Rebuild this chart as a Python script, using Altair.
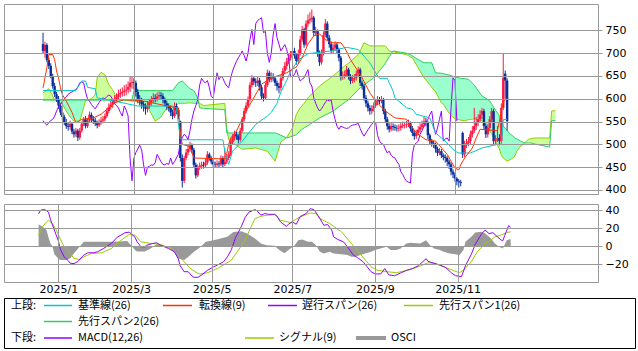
import altair as alt
import pandas as pd

# ---------------- data ----------------
day_index = list(range(-10, 231))  # trading-day index, 0 = first trading day of 2025

open_price = [
    720, 705, 718, 685, 672, 650, 628, 610, 600, 585,
    570, 560, 548, 540, 538, 545, 528, 522, 530, 515,
    530, 545, 555, 540, 552, 565, 555, 552, 546, 542,
    548, 552, 555, 562, 573, 582, 587, 594, 600, 604,
    610, 613, 615, 618, 620, 626, 635, 637, 635, 615,
    600, 595, 588, 582, 578, 585, 592, 598, 602, 600,
    605, 608, 606, 598, 590, 585, 580, 570, 562, 584,
    575, 550, 470, 420, 470, 482, 490, 498, 488, 455,
    432, 450, 452, 455, 454, 460, 478, 470, 462, 456,
    455, 458, 456, 470, 456, 462, 470, 478, 505, 515,
    522, 518, 510, 530, 555, 573, 585, 598, 630, 645,
    638, 635, 640, 625, 605, 602, 630, 657, 642, 650,
    645, 635, 628, 624, 645, 661, 672, 682, 690, 697,
    705, 695, 683, 700, 730, 752, 719, 765, 772, 775,
    778, 745, 748, 700, 680, 700, 740, 765, 734, 720,
    705, 712, 719, 708, 690, 648, 650, 653, 664, 650,
    639, 643, 646, 655, 664, 635, 628, 602, 590, 580,
    573, 578, 585, 592, 598, 595, 598, 573, 555, 540,
    533, 540, 538, 536, 535, 536, 540, 542, 543, 544,
    546, 535, 525, 518, 525, 532, 538, 544, 550, 548,
    520, 507, 502, 500, 490, 481, 485, 476, 472, 470,
    462, 456, 440, 434, 425, 419, 417, 525, 478, 499,
    503, 507, 522, 530, 540, 548, 555, 565, 573, 540,
    522, 536, 555, 573, 507, 512, 514, 507, 580, 655,
    640,
]
high_price = [
    745, 725, 722, 690, 678, 655, 635, 615, 606, 590,
    578, 565, 556, 548, 552, 548, 534, 536, 534, 536,
    550, 560, 562, 558, 572, 570, 562, 558, 552, 555,
    560, 562, 568, 580, 590, 595, 600, 608, 612, 620,
    622, 625, 630, 632, 638, 650, 648, 645, 640, 622,
    608, 602, 595, 590, 595, 600, 606, 612, 610, 614,
    616, 615, 612, 603, 596, 590, 585, 576, 592, 590,
    580, 552, 478, 475, 490, 500, 506, 502, 492, 460,
    456, 460, 462, 462, 468, 485, 482, 474, 466, 462,
    465, 463, 476, 474, 492, 476, 485, 510, 522, 530,
    528, 522, 536, 560, 580, 592, 605, 636, 652, 650,
    645, 650, 646, 630, 612, 636, 664, 662, 658, 656,
    650, 640, 635, 652, 668, 680, 690, 698, 705, 716,
    712, 700, 708, 738, 760, 756, 772, 785, 790, 796,
    782, 758, 752, 706, 708, 748, 775, 770, 740, 726,
    720, 726, 724, 712, 694, 660, 662, 672, 668, 654,
    652, 654, 662, 670, 668, 640, 632, 608, 596, 586,
    586, 592, 600, 606, 604, 606, 602, 578, 560, 546,
    548, 546, 544, 542, 544, 548, 550, 550, 552, 554,
    550, 540, 530, 532, 540, 546, 552, 560, 558, 552,
    524, 512, 508, 504, 495, 492, 490, 480, 478, 474,
    466, 460, 445, 438, 428, 424, 422, 528, 508, 512,
    516, 530, 540, 580, 560, 566, 575, 580, 578, 546,
    544, 562, 580, 578, 520, 540, 522, 590, 700, 662,
    645,
]
low_price = [
    700, 690, 680, 665, 645, 622, 604, 593, 578, 564,
    552, 542, 534, 530, 532, 522, 515, 516, 507, 510,
    526, 540, 535, 536, 548, 548, 545, 540, 535, 538,
    543, 546, 550, 558, 568, 576, 580, 588, 592, 598,
    602, 605, 606, 608, 612, 615, 622, 620, 605, 590,
    585, 578, 572, 565, 570, 578, 585, 590, 592, 594,
    598, 598, 590, 582, 575, 572, 562, 555, 558, 566,
    555, 462, 405, 415, 465, 476, 484, 480, 448, 425,
    428, 444, 446, 447, 449, 455, 464, 456, 450, 448,
    450, 449, 452, 450, 452, 457, 465, 474, 500, 508,
    510, 502, 506, 526, 550, 568, 580, 594, 625, 630,
    626, 628, 618, 598, 594, 598, 626, 636, 636, 638,
    628, 618, 612, 618, 640, 655, 664, 676, 684, 690,
    688, 675, 678, 695, 725, 712, 715, 758, 765, 768,
    738, 738, 692, 672, 675, 695, 735, 728, 712, 698,
    700, 705, 700, 682, 640, 642, 644, 648, 642, 632,
    634, 636, 640, 650, 628, 620, 596, 582, 572, 565,
    566, 572, 580, 586, 588, 590, 566, 548, 532, 526,
    528, 530, 530, 528, 528, 530, 535, 535, 536, 538,
    528, 518, 510, 512, 520, 526, 532, 538, 540, 512,
    500, 495, 492, 482, 474, 476, 470, 465, 460, 452,
    446, 432, 426, 418, 410, 405, 408, 470, 472, 492,
    496, 500, 515, 525, 532, 540, 548, 556, 532, 514,
    515, 530, 548, 500, 498, 505, 498, 500, 575, 600,
    530,
]
close_price = [
    705, 718, 685, 672, 650, 628, 610, 600, 585, 570,
    560, 548, 540, 538, 545, 528, 522, 530, 515, 530,
    545, 555, 540, 552, 565, 555, 552, 546, 542, 548,
    552, 555, 562, 573, 582, 587, 594, 600, 604, 610,
    613, 615, 618, 620, 626, 635, 637, 635, 615, 600,
    595, 588, 582, 578, 585, 592, 598, 602, 600, 605,
    608, 606, 598, 590, 585, 580, 570, 562, 584, 575,
    562, 470, 420, 470, 482, 490, 498, 488, 455, 432,
    450, 452, 455, 454, 460, 478, 470, 462, 456, 455,
    458, 456, 470, 456, 462, 470, 478, 505, 515, 522,
    518, 510, 530, 555, 573, 585, 598, 630, 645, 638,
    635, 640, 625, 605, 602, 630, 657, 642, 650, 645,
    635, 628, 624, 645, 661, 672, 682, 690, 697, 705,
    695, 683, 700, 730, 752, 719, 765, 772, 775, 778,
    745, 748, 700, 680, 700, 740, 765, 734, 720, 705,
    712, 719, 708, 690, 648, 650, 653, 664, 650, 639,
    643, 646, 655, 664, 635, 628, 602, 590, 580, 573,
    578, 585, 592, 598, 595, 598, 573, 555, 540, 533,
    540, 538, 536, 535, 536, 540, 542, 543, 544, 546,
    535, 525, 518, 525, 532, 538, 544, 550, 548, 520,
    507, 502, 500, 490, 481, 485, 476, 472, 470, 462,
    456, 440, 434, 425, 419, 417, 415, 478, 499, 503,
    507, 522, 530, 540, 548, 555, 565, 573, 540, 522,
    536, 555, 573, 507, 512, 514, 507, 580, 646, 640,
    551,
]

tenkan_idx = [-10, -8, -7, -5, -4, -3, -2, -1, 0, 2, 5, 7, 10, 16, 20, 27, 32, 42, 50, 57,
              60, 61, 62, 66, 68, 84, 85, 86, 87, 90, 95, 98, 103, 108, 111, 116, 121, 124, 127, 130,
              133, 136, 139, 144, 146, 149, 155, 159, 162, 167, 172, 178, 183, 188, 193, 199, 201, 203, 205, 206,
              208, 212, 214, 216, 225, 227, 228, 230]
tenkan_val = [624, 668, 697, 697, 686, 661, 646, 624, 609, 595, 570, 547, 555, 558, 566, 591, 598, 595, 588, 582,
              580, 525, 500, 495, 470, 468, 480, 500, 514, 529, 573, 595, 632, 646, 650, 657, 670, 690, 720, 738,
              742, 730, 723, 723, 712, 686, 646, 613, 595, 573, 558, 555, 525, 510, 507, 478, 463, 448, 444, 455,
              470, 492, 514, 533, 530, 573, 595, 600]

kijun_idx = [-10, 7, 10, 12, 13, 17, 18, 27, 39, 57, 59, 61, 62, 83, 84, 86, 88, 93, 100, 106,
             108, 111, 113, 116, 118, 122, 127, 139, 147, 153, 159, 162, 164, 168, 171, 172, 178, 181, 183, 190,
             193, 198, 203, 205, 211, 217, 225, 227, 228, 230]
kijun_val = [618, 618, 639, 639, 625, 622, 602, 595, 584, 584, 580, 512, 510, 510, 485, 456, 485, 507, 544, 562,
             570, 590, 615, 640, 660, 685, 699, 705, 713, 708, 679, 657, 645, 645, 617, 602, 580, 577, 566, 558,
             525, 507, 485, 481, 481, 492, 500, 500, 554, 555]

cloud_idx = [-10, -7, -4, 0, 3, 5, 6, 9, 11, 12, 15, 17, 18, 20, 22, 24, 26, 28, 30, 36,
             37, 42, 45, 48, 51, 54, 57, 60, 62, 63, 66, 68, 70, 71, 73, 84, 85, 86, 93, 100,
             106, 110, 113, 116, 119, 121, 123, 125, 127, 133, 140, 146, 148, 153, 154, 156, 159, 161, 166, 167,
             169, 171, 178, 180, 181, 184, 187, 190, 191, 193, 196, 197, 200, 203, 206, 208, 210, 213, 217, 218,
             221, 224, 226, 227, 228, 230, 231, 233, 234, 235, 237, 239, 241, 242, 244, 252, 253, 255]
span1_val = [613, 622, 598, 588, 566, 555, 551, 551, 580, 597, 600, 609, 646, 658, 653, 631, 620, 603, 598, 595,
             595, 590, 575, 551, 560, 580, 575, 590, 590, 590, 591, 590, 590, 590, 585, 590, 536, 510, 489, 492,
             485, 463, 505, 515, 536, 566, 580, 590, 602, 628, 650, 672, 678, 697, 705, 723, 716, 716, 716, 716,
             705, 703, 697, 692, 690, 668, 646, 631, 625, 615, 591, 588, 568, 556, 553, 552, 554, 556, 552, 548,
             530, 507, 490, 476, 470, 463, 465, 470, 474, 485, 496, 503, 511, 512, 514, 514, 573, 574]
span2_val = [597, 597, 597, 597, 597, 597, 597, 597, 597, 597, 597, 597, 597, 597, 597, 597, 597, 597, 597, 597,
             618, 618, 618, 618, 618, 618, 618, 635, 639, 635, 622, 618, 602, 580, 579, 576, 525, 525, 525, 525,
             525, 525, 520, 514, 518, 521, 530, 536, 541, 558, 573, 592, 598, 620, 624, 630, 640, 646, 672, 678,
             692, 705, 700, 697, 694, 686, 679, 679, 679, 657, 656, 655, 652, 648, 645, 644, 643, 630, 606, 604,
             595, 575, 563, 555, 540, 530, 525, 518, 514, 512, 507, 503, 503, 503, 501, 494, 552, 552]

macd_idx = [-10, -9, -7, -5, -4, -2, 0, 1, 3, 5, 6, 8, 10, 12, 13, 15, 18, 20, 23, 27,
            30, 34, 36, 37, 39, 40, 42, 44, 45, 48, 50, 52, 54, 56, 59, 61, 62, 64, 66, 68,
            69, 71, 73, 76, 79, 81, 84, 86, 88, 90, 93, 95, 97, 100, 101, 103, 105, 107, 110, 111,
            113, 116, 117, 119, 121, 123, 126, 128, 130, 132, 134, 135, 137, 139, 140, 142, 145, 147, 150, 152,
            155, 157, 159, 161, 164, 166, 168, 171, 174, 177, 180, 183, 187, 188, 191, 194, 197, 200, 202, 205,
            207, 210, 212, 215, 217, 219, 221, 223, 225, 226, 227, 229, 230]
macd_val = [36, 40, 41, 38, 30, 18, 6, -3, -12, -16, -19, -19.5, -17, -12, -10, -7.4, -7.4, -6.3, -2.6, 3,
            10, 15, 15.6, 14, 10, 5, -0.7, -0.7, 1, 3, 3.7, 1.1, -0.7, -2.6, -6.3, -14, -22, -28.5, -28.5, -33.3,
            -34.8, -34.8, -32, -26.7, -23, -21, -17.4, -12, -4, 9, 21.5, 32, 38, 40.7, 39.5, 34.5, 36.3, 35.5, 35.5, 34,
            27, 22, 24.4, 27, 24.4, 33, 36.3, 41.8, 40.7, 34.4, 27, 23.3, 24, 17.8, 10.4, 7.5, 4.8, -0.7, -10, -12.6,
            -17.4, -23, -28.5, -31, -31, -25, -32, -33, -30, -27, -25, -22, -14, -17, -19, -21, -24, -30, -33, -34,
            -22, -9, 2, 13, 18, 14, 15, 11, 7, 6, 12, 23, 21]

signal_idx = [-10, -8, -6, -5, -3, -1, 1, 3, 6, 8, 11, 13, 17, 22, 27, 32, 36, 39, 42, 47,
              52, 57, 61, 64, 67, 71, 72, 76, 81, 84, 88, 91, 95, 98, 100, 103, 106, 110, 113, 118,
              123, 128, 131, 133, 138, 144, 149, 154, 159, 162, 167, 172, 178, 183, 188, 191, 196, 201, 204, 206,
              210, 213, 217, 220, 222, 225, 228, 230]
signal_val = [12, 21.5, 27, 28.9, 25.2, 17.8, 8, -0.7, -8.1, -13.7, -14.8, -11.9, -8.1, -7.4, -2.6, 6.7, 13, 12.2, 4.8, 3,
              1.9, -2.6, -10, -17.4, -24.8, -30.4, -31.1, -29.6, -24.8, -21.1, -15.6, -6.3, 6.7, 21.5, 30.7, 33.3, 34.4, 35.2, 28.9, 26.3,
              32.6, 37, 36.3, 30.7, 25.2, 15.9, 3, -10, -23, -26.7, -28.5, -29.6, -26.7, -23, -18.5, -19.3, -23, -27.4, -29.6, -26.7,
              -17.4, -6.3, 3, 6.7, 10.4, 12.2, 15.2, 16]

osci_idx = [-10, -9, -8, -6, -5, -4, -3, -2, 0, 1, 4, 6, 8, 10, 11, 13, 22, 28, 35, 37,
            39, 40, 44, 47, 50, 54, 57, 59, 61, 64, 66, 69, 72, 75, 79, 86, 89, 93, 96, 100,
            103, 106, 110, 112, 115, 117, 120, 122, 124, 127, 129, 131, 133, 135, 138, 140, 144, 147, 149, 151,
            156, 159, 161, 167, 169, 172, 174, 177, 179, 184, 187, 189, 191, 194, 196, 199, 201, 204, 206, 207,
            210, 212, 215, 217, 220, 222, 224, 226, 228, 230]
osci_val = [24, 23, 22, 18, 10, 3, 0, -9, -13.7, -15.6, -15.6, -13.7, -8, -3, 0, 4.8, 4.8, 4.8, 5.6, 1,
            -4.4, -6, -6, -2.6, 2, 0, -2, -6.3, -13.7, -15.6, -12, -6.3, -1.5, 4.8, 6.7, 10.4, 15.9, 16.7, 14, 8.5,
            3, 1, 0.5, -3.7, -8, -4.4, 0.5, 6.7, 7.5, 5, 4.8, 1, -6.3, -8.1, -6.3, -8.1, -9, -10, -11.9, -11.9,
            -8.1, -6.3, -4.4, -0.7, -4.4, -4.4, -2.6, 3, 3.7, 3, 6.7, 1.1, -2.6, -4.4, -6.3, -8.1, -8.8, -10, -4.4, 4.8,
            10.4, 15.2, 16, 14, 8.5, 3, -0.7, -2.6, 6.7, 8]

tick_pos = [0, 37, 78, 119, 161, 203]
tick_labels = ["2025/1", "2025/3", "2025/5", "2025/7", "2025/9", "2025/11"]
price_ticks = [400, 450, 500, 550, 600, 650, 700, 750]
macd_ticks = [-20, 0, 20, 40]

upper_labels = ["基準線(26)", "転換線(9)", "遅行スパン(26)", "先行スパン1(26)", "先行スパン2(26)"]
lower_labels = ["MACD(12,26)", "シグナル(9)", "OSCI"]

# ---------------- styles ----------------
RED = "#FF1744"
BLUE = "#0B2F9A"
TENKAN = "#FF3300"
KIJUN = "#00C8C8"
CHIKOU = "#9900FF"
SPAN1 = "#99CC00"
SPAN2 = "#33CC66"
FILL1 = "#CCFF99"
FILL2 = "#99FFCC"
GRID = "#999999"
OSCI_C = "#999999"
LFONT = "Noto Sans CJK JP"

XDOM = [-27.6, 274.4]
PW = 594
PH_MAIN = 190
PH_MACD = 78

label_expr = " : ".join(f"datum.value == {p} ? '{t}'" for p, t in zip(tick_pos, tick_labels)) + " : ''"


def x_enc(field, show_labels):
    return alt.X(f"{field}:Q",
                 scale=alt.Scale(domain=XDOM, nice=False, zero=False),
                 axis=alt.Axis(values=tick_pos, grid=True, ticks=False, domain=False,
                               labels=show_labels, labelExpr=label_expr, labelPadding=1,
                               labelFlush=False, title=None, zindex=1))


def y_main(field):
    return alt.Y(f"{field}:Q", scale=alt.Scale(domain=[391, 808], nice=False, zero=False),
                 axis=alt.Axis(orient="right", values=price_ticks, grid=True, tickSize=4,
                               labelPadding=3, domain=False, title=None, zindex=1))


def y_macd(field):
    return alt.Y(f"{field}:Q", scale=alt.Scale(domain=[-40, 47], nice=False, zero=False),
                 axis=alt.Axis(orient="right", values=macd_ticks, grid=True, tickSize=4,
                               labelPadding=3, domain=False, title=None, zindex=1))


# ---------------- main panel ----------------
cdf = pd.DataFrame({"x": day_index, "o": open_price, "h": high_price, "l": low_price, "c": close_price})
cloud_df = pd.DataFrame({"x": cloud_idx, "a": span1_val, "b": span2_val})
tenkan_df = pd.DataFrame({"x": tenkan_idx, "y": tenkan_val})
kijun_df = pd.DataFrame({"x": kijun_idx, "y": kijun_val})

candle_color = alt.condition("datum.c >= datum.o", alt.value(RED), alt.value(BLUE))

cloud_base = alt.Chart(cloud_df).transform_calculate(top="max(datum.a, datum.b)")
fill_up = cloud_base.mark_area(color=FILL1, opacity=1).encode(
    x=x_enc("x", False), y=y_main("b"), y2="top:Q")
fill_dn = cloud_base.mark_area(color=FILL2, opacity=1).encode(
    x=x_enc("x", False), y=y_main("a"), y2="top:Q")
line_a = alt.Chart(cloud_df).mark_line(color=SPAN1, strokeWidth=1).encode(x=x_enc("x", False), y=y_main("a"))
line_b = alt.Chart(cloud_df).mark_line(color=SPAN2, strokeWidth=1).encode(x=x_enc("x", False), y=y_main("b"))

wicks = alt.Chart(cdf).mark_rule(strokeWidth=1).encode(
    x=x_enc("x", False), y=y_main("l"), y2="h:Q", color=candle_color)
bodies = alt.Chart(cdf).mark_bar(size=2.4).encode(
    x=x_enc("x", False), y=y_main("o"), y2="c:Q", color=candle_color)

chikou = alt.Chart(cdf).transform_calculate(cx="datum.x - 26").transform_filter(
    "datum.cx >= -10").mark_line(color=CHIKOU, strokeWidth=1).encode(x=x_enc("cx", False), y=y_main("c"))
kijun = alt.Chart(kijun_df).mark_line(color=KIJUN, strokeWidth=1).encode(x=x_enc("x", False), y=y_main("y"))
tenkan = alt.Chart(tenkan_df).mark_line(color=TENKAN, strokeWidth=1).encode(x=x_enc("x", False), y=y_main("y"))

main = alt.layer(fill_up, fill_dn, line_a, line_b, wicks, bodies, chikou, kijun, tenkan).properties(
    width=PW, height=PH_MAIN)

# ---------------- MACD panel ----------------
osci_df = pd.DataFrame({"x": osci_idx, "y": osci_val})
macd_df = pd.DataFrame({"x": macd_idx, "y": macd_val})
signal_df = pd.DataFrame({"x": signal_idx, "y": signal_val})

osci = alt.Chart(osci_df).mark_area(color=OSCI_C).encode(
    x=x_enc("x", True), y=y_macd("y"), y2=alt.datum(0))
macd_line = alt.Chart(macd_df).mark_line(color=CHIKOU, strokeWidth=1).encode(x=x_enc("x", True), y=y_macd("y"))
signal_line = alt.Chart(signal_df).mark_line(color=SPAN1, strokeWidth=1).encode(x=x_enc("x", True), y=y_macd("y"))

macd = alt.layer(osci, signal_line, macd_line).properties(width=PW, height=PH_MACD)

# ---------------- legend box ----------------
dummy = pd.DataFrame({"k": [0]})


def ltext(txt, x, y):
    return alt.Chart(dummy).mark_text(text=txt, align="left", baseline="middle", font=LFONT,
                                      fontSize=11, color="#000").encode(x=alt.value(x), y=alt.value(y))


def lline(color, x1, x2, y, w=1.5):
    return alt.Chart(dummy).mark_rule(color=color, strokeWidth=w).encode(
        x=alt.value(x1), x2=alt.value(x2), y=alt.value(y))


R1, R2, R3 = 7.5, 23.5, 40
layers = [
    ltext("上段:", 7, R1),
    lline(KIJUN, 40, 68, R1), ltext(upper_labels[0], 74, R1),
    lline(TENKAN, 159, 188, R1), ltext(upper_labels[1], 195, R1),
    lline(CHIKOU, 264, 293, R1), ltext(upper_labels[2], 298, R1),
    lline(SPAN1, 400, 429, R1), ltext(upper_labels[3], 435, R1),
    lline(SPAN2, 40, 68, R2), ltext(upper_labels[4], 74, R2),
    ltext("下段:", 7, R3),
    lline(CHIKOU, 40, 68, R3), ltext(lower_labels[0], 74, R3),
    lline(SPAN1, 241, 270, R3), ltext(lower_labels[1], 275, R3),
    lline(OSCI_C, 352, 382, R3, 4), ltext(lower_labels[2], 387, R3),
]
legend = alt.layer(*layers).properties(
    width=631, height=50, view=alt.ViewBackground(stroke="#000000", strokeWidth=1))

chart = alt.vconcat(alt.vconcat(main, macd, spacing=7), legend, spacing=2).properties(
    padding={"left": 3, "top": 3, "right": 0, "bottom": 0}
).configure_view(stroke=GRID, strokeWidth=1).configure_axis(
    labelFont="DejaVu Sans", labelFontSize=11, labelColor="#000000",
    gridColor=GRID, gridWidth=1, tickColor=GRID
)

chart.save("out.html", embed_options={"renderer": "svg", "actions": False})
